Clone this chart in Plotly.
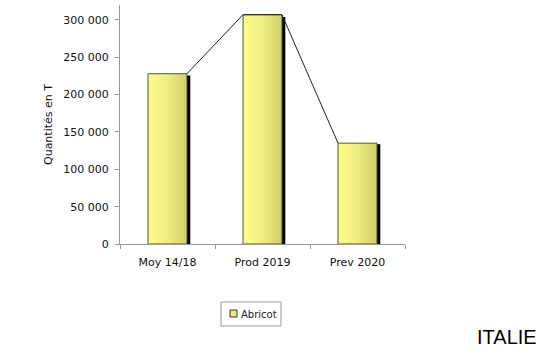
import plotly.graph_objects as go

categories = ["Moy 14/18", "Prod 2019", "Prev 2020"]
values = [228000, 307000, 135000]
series_name = "Abricot"
y_tick_vals = [0, 50000, 100000, 150000, 200000, 250000, 300000]
y_tick_text = ["0", "50 000", "100 000", "150 000", "200 000", "250 000", "300 000"]
y_title = "Quantités en T"
country = "ITALIE"

W = 0.41      # bar width (category units)
SH = 0.035    # shadow width (category units)
LABEL_FONT = "DejaVu Sans"
BAR_SCALE = [[0, "#FFFF8F"], [0.5, "#EEEE80"], [1, "#CFCF68"]]

fig = go.Figure()

# shadows
for i, v in enumerate(values):
    x0, x1 = i + W / 2 - 0.005, i + W / 2 + SH
    fig.add_trace(go.Scatter(
        x=[x0, x0, x1, x1, x0], y=[0, v * 0.99, v * 0.99, 0, 0],
        mode="lines", fill="toself", fillcolor="#000000",
        line=dict(color="#000000", width=0), hoverinfo="skip", showlegend=False))

# gradient bars
for i, v in enumerate(values):
    x0, x1 = i - W / 2, i + W / 2
    fig.add_trace(go.Scatter(
        x=[x0, x0, x1, x1, x0], y=[0, v, v, 0, 0],
        mode="lines", fill="toself", name=series_name,
        fillgradient=dict(type="horizontal", colorscale=BAR_SCALE),
        line=dict(color="#55552A", width=1), hoverinfo="skip", showlegend=False))

# connecting series line between bar corners
lx, ly = [], []
for i, v in enumerate(values):
    if i > 0:
        lx.append(i - W / 2); ly.append(v)
    if i < len(values) - 1:
        lx.append(i + W / 2); ly.append(v)
fig.add_trace(go.Scatter(x=lx, y=ly, mode="lines",
                         line=dict(color="#222222", width=1),
                         hoverinfo="skip", showlegend=False))

# invisible trace on xaxis2 for boundary ticks
fig.add_trace(go.Scatter(x=[-0.5, 2.5], y=[None, None], xaxis="x2",
                         showlegend=False, hoverinfo="skip"))

fig.update_layout(
    width=550, height=360,
    margin=dict(l=120, r=145, t=5, b=116),
    paper_bgcolor="white", plot_bgcolor="white",
    showlegend=False,
    xaxis=dict(range=[-0.5, 2.5], tickvals=[0, 1, 2], ticktext=categories,
               ticks="", showgrid=False, zeroline=False,
               showline=True, linecolor="#999999", linewidth=1,
               ticklabelstandoff=8,
               tickfont=dict(family=LABEL_FONT, size=11, color="#111"),
               fixedrange=True),
    xaxis2=dict(range=[-0.5, 2.5], overlaying="x", anchor="y",
                tickvals=[-0.5, 0.5, 1.5, 2.5], showticklabels=False,
                ticks="outside", ticklen=4, tickcolor="#999999",
                showgrid=False, zeroline=False, side="bottom"),
    yaxis=dict(range=[0, 320000], tickvals=y_tick_vals, ticktext=y_tick_text,
               ticks="outside", ticklen=4, tickcolor="#999999",
               showgrid=False, zeroline=False,
               showline=True, linecolor="#999999", linewidth=1,
               ticklabelstandoff=4,
               tickfont=dict(family="DejaVu Sans", size=11, color="#111"),
               title=dict(text=y_title, standoff=8,
                          font=dict(family=LABEL_FONT, size=11, color="#111"))),
)

# legend box (drawn)
fig.add_shape(type="rect", xref="paper", yref="paper",
              x0=0.3544, x1=0.5649, y0=-0.2427, y1=-0.3431,
              line=dict(color="#999999", width=1), fillcolor="white")
fig.add_shape(type="rect", xref="paper", yref="paper",
              x0=0.3860, x1=0.4105, y0=-0.2762, y1=-0.3054,
              line=dict(color="#333333", width=1), fillcolor="#EEEE7A")
fig.add_annotation(text=series_name, xref="paper", yref="paper",
                   x=0.416, y=-0.2929, xanchor="left", yanchor="middle",
                   showarrow=False,
                   font=dict(family=LABEL_FONT, size=10, color="#222"))

fig.add_annotation(text=country, xref="paper", yref="paper",
                   x=1.47, y=-0.39, xanchor="right", yanchor="middle",
                   showarrow=False,
                   font=dict(family="Liberation Sans", size=20, color="#000"))

fig.write_html("out.html", config={"displayModeBar": False},
               post_script="document.body.style.margin='0';document.body.style.padding='0';")
